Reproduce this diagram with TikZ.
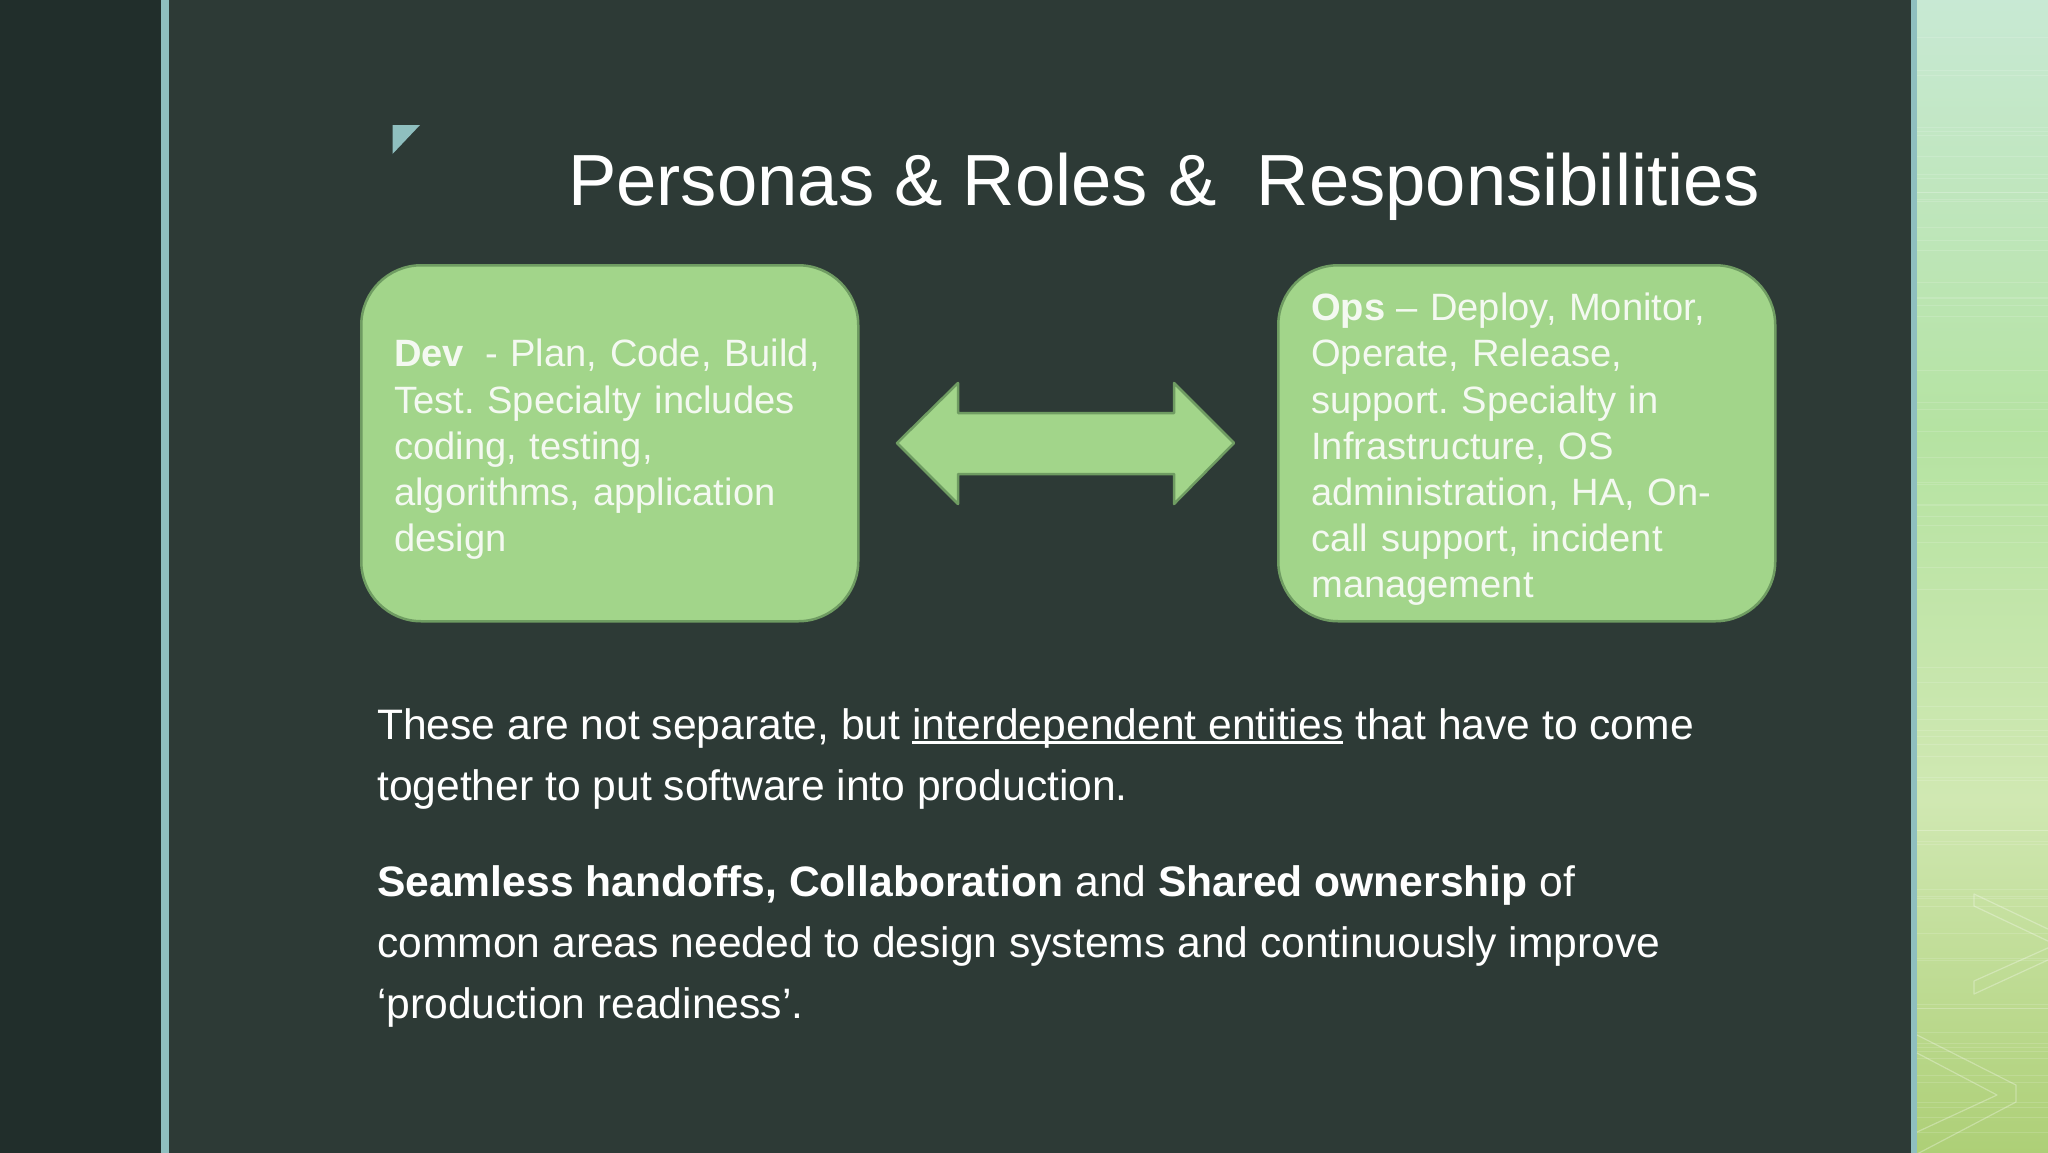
\documentclass[tikz,border=0pt]{standalone}
\usepackage{fontspec}
\setmainfont{Liberation Sans}
\frenchspacing
\definecolor{panelL}{HTML}{212E2B}
\definecolor{panelM}{HTML}{2D3A36}
\definecolor{barc}{HTML}{8FBFBF}
\definecolor{boxf}{HTML}{A2D58A}
\definecolor{boxs}{HTML}{6F9C62}
\definecolor{boxt}{HTML}{F4F9F1}
\definecolor{gA}{HTML}{C8E9D4}
\definecolor{gB}{HTML}{B5E3A2}
\definecolor{gC}{HTML}{D0E8B2}
\definecolor{gD}{HTML}{ADCF76}
\hfuzz=30pt
\newcommand{\ulmark}[1]{\leavevmode\setbox0\hbox{#1}\rlap{\rule[-4.5pt]{\wd0}{2.2pt}}\box0\relax}
\newcommand{\boxstrut}{\rule{0pt}{40pt}}
\tikzset{
  rolebox/.style={draw=boxs,fill=boxf,line width=2.5pt,rounded corners=60pt,minimum width=497pt,minimum height=356pt,
    inner xsep=33pt,inner ysep=0pt,text width=431pt,align=left,text=boxt,font=\fontsize{38.1}{46.2}\selectfont,anchor=north west},
  bodytext/.style={text=white,align=left,anchor=north west,inner sep=0pt,font=\fontsize{42.6}{61.3}\selectfont},
  chev/.style={draw=white,draw opacity=.3,line width=1.2pt,line join=round}
}
\begin{document}
\begin{tikzpicture}[x=1pt,y=-1pt]
\useasboundingbox (0,0) rectangle (2048,1152);
\fill[panelL] (-2,-2) rectangle (165,1156);
\fill[panelM] (165,-2) rectangle (1914,1156);
\fill[barc] (161,-2) rectangle (169,1156);
\fill[top color=gA,bottom color=gB] (1914,-2) rectangle (2050,430);
\fill[top color=gB,bottom color=gC] (1914,430) rectangle (2050,800);
\fill[top color=gC,bottom color=gD] (1914,800) rectangle (2050,1156);
\pgfmathsetseed{7}
\foreach \k in {1,...,70}{
  \pgfmathsetmacro{\yy}{rnd*1150}
  \draw[white,opacity=.14,line width=.9pt] (1917,\yy) -- (2050,\yy);
}
\fill[barc] (1911,-2) rectangle (1917,1156);
\draw[chev] (2050,930) -- (1974,894) -- (1974,906) -- (2050,942);
\draw[chev] (2050,947) -- (1974,981) -- (1974,994) -- (2050,959);
\draw[chev] (1917,1035) -- (2016,1085) -- (2016,1102) -- (1917,1154);
\draw[chev] (1917,1053) -- (1997,1095) -- (1917,1132);
\fill[barc] (392.5,125) -- (420,125) -- (392.5,154) -- cycle;
\node[anchor=base west,inner sep=0pt,text=white,font=\fontsize{72.45}{80}\selectfont] (title) at (568,205) {Personas \& Roles \&\ \ Responsibilities};
\node[rolebox] (dev) at (360,264) {\boxstrut\mbox{\textbf{Dev}\hspace{21pt}- Plan, Code, Build,}\\Test. Specialty includes\\coding, testing,\\algorithms, application\\design};
\node[rolebox] (ops) at (1277,264) {\boxstrut\textbf{Ops}\hspace{11pt}-- Deploy, Monitor,\\Operate, Release,\\support. Specialty in\\Infrastructure, OS\\administration, HA, On-\\call support, incident\\management};
\draw[draw=boxs,fill=boxf,line width=2.5pt,line join=round] (897,443) -- (958,383) -- (958,413) -- (1174,413) -- (1174,383) -- (1234,443) -- (1174,504) -- (1174,474) -- (958,474) -- (958,504) -- cycle;
\node[bodytext] (p1) at (377,708) {These are not separate, but \ulmark{interdependent entities} that have to come\\together to put software into production.};
\node[bodytext] (p2) at (377,865) {\textbf{Seamless handoffs, Collaboration} and \textbf{Shared ownership} of\\common areas needed to design systems and continuously improve\\‘production readiness’.};
\end{tikzpicture}
\end{document}
